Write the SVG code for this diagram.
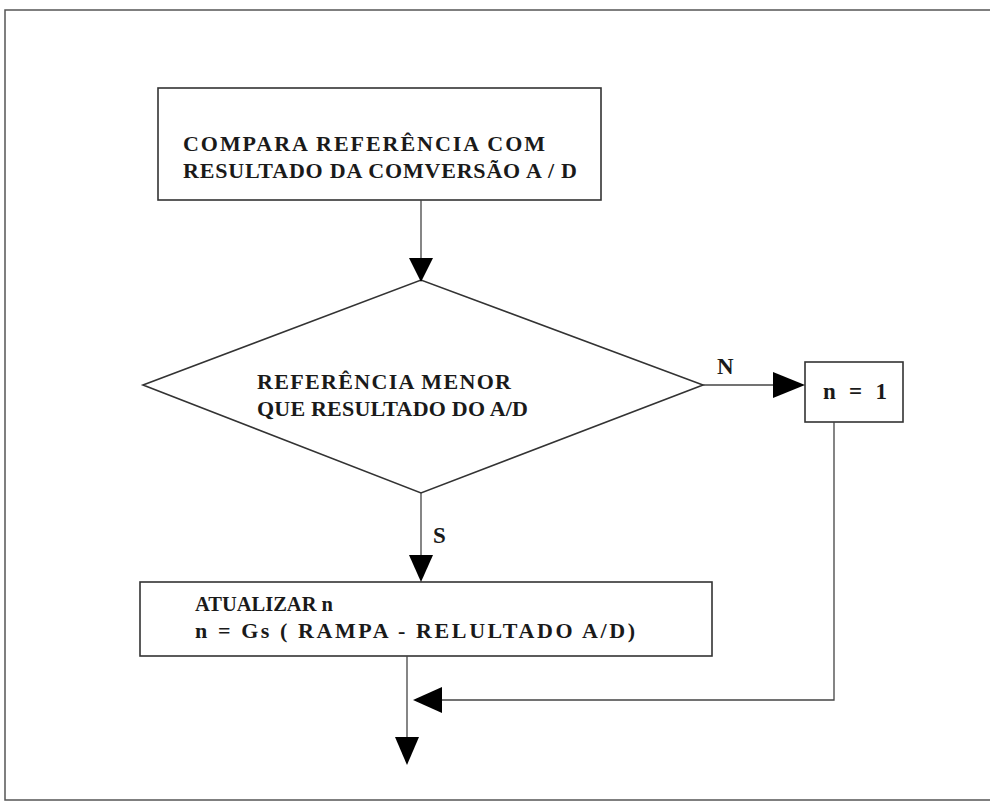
<svg xmlns="http://www.w3.org/2000/svg" width="990" height="807" viewBox="0 0 990 807">
  <style>
    .frame { fill: none; stroke: #555; stroke-width: 1.5; }
    .box { fill: #fff; stroke: #333; stroke-width: 1.6; }
    .line { fill: none; stroke: #444; stroke-width: 1.3; }
    .head { fill: #000; }
    .t { font-family: "Liberation Serif", "Times New Roman", serif; font-weight: bold; font-size: 22px; fill: #1a1a1a; }
    .lbl { font-family: "Liberation Serif", "Times New Roman", serif; font-weight: bold; font-size: 23px; fill: #1a1a1a; }
  </style>
  <rect width="990" height="807" fill="#fff"/>
  <rect class="frame" x="5" y="10" width="990" height="790"/>

  <g id="compara">
    <rect class="box" x="158" y="88" width="443" height="112"/>
    <text class="t" x="183" y="151" textLength="362" lengthAdjust="spacing">COMPARA REFERÊNCIA COM</text>
    <text class="t" x="183" y="178" textLength="394" lengthAdjust="spacing">RESULTADO DA COMVERSÃO A / D</text>
  </g>

  <g id="decisao">
    <polygon class="box" points="143,385 421,280 703,385 421,493"/>
    <text class="t" x="257" y="389" textLength="254" lengthAdjust="spacing">REFERÊNCIA MENOR</text>
    <text class="t" x="257" y="416" textLength="271" lengthAdjust="spacing">QUE RESULTADO DO A/D</text>
  </g>

  <g id="n1">
    <rect class="box" x="805" y="362" width="98" height="60"/>
    <text class="t" x="823" y="399" textLength="64" lengthAdjust="spacing" style="font-size:23px">n = 1</text>
  </g>

  <g id="atualizar">
    <rect class="box" x="140" y="582" width="572" height="74"/>
    <text class="t" x="195" y="611" textLength="138" lengthAdjust="spacingAndGlyphs">ATUALIZAR  n</text>
    <text class="t" x="195" y="638" textLength="440" lengthAdjust="spacing">n = Gs ( RAMPA - RELULTADO A/D)</text>
  </g>

  <g id="conectores">
    <!-- compara -> decisao -->
    <line class="line" x1="421" y1="200" x2="421" y2="260"/>
    <polygon class="head" points="409,258 433,258 421,282"/>
    <!-- decisao -> n = 1 (N) -->
    <line class="line" x1="703" y1="385" x2="775" y2="385"/>
    <polygon class="head" points="773,372 773,398 805,385"/>
    <text class="lbl" x="717" y="374">N</text>
    <!-- decisao -> atualizar (S) -->
    <line class="line" x1="421" y1="493" x2="421" y2="557"/>
    <polygon class="head" points="409,555 433,555 421,582"/>
    <text class="lbl" x="433" y="543">S</text>
    <!-- n = 1 -> juncao -->
    <polyline class="line" points="834,422 834,700 440,700"/>
    <polygon class="head" points="442,687 442,713 413,700"/>
    <!-- saida -->
    <line class="line" x1="407" y1="656" x2="407" y2="740"/>
    <polygon class="head" points="395,737 419,737 407,765"/>
  </g>
</svg>
